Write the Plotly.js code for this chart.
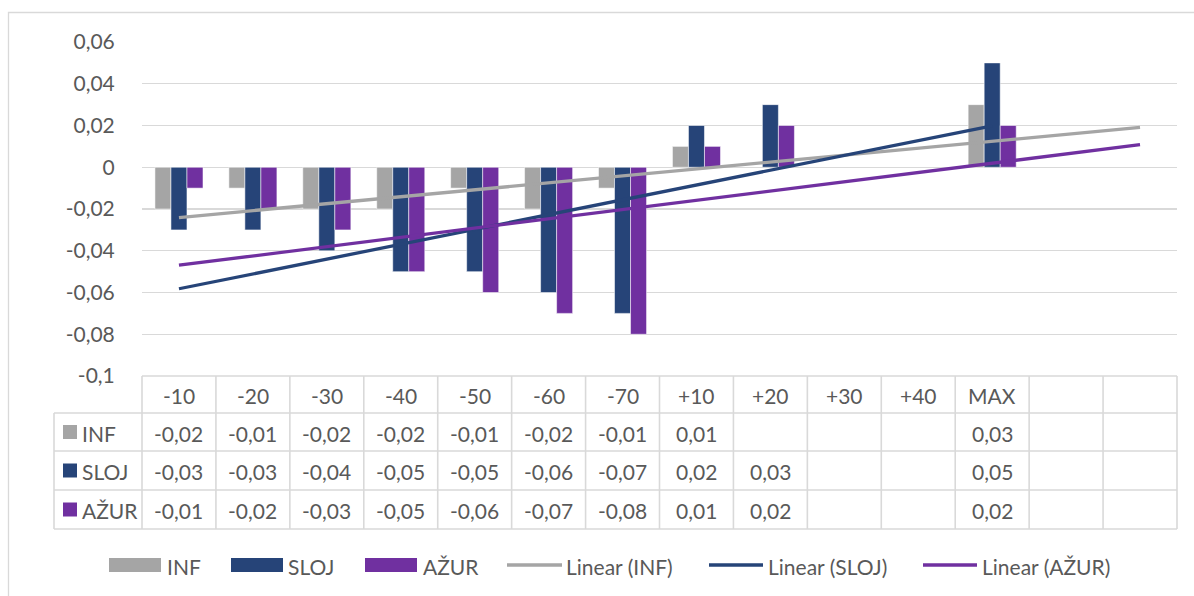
<!DOCTYPE html>
<html>
<head>
<meta charset="utf-8">
<script src="https://cdn.plot.ly/plotly-3.0.1.min.js"></script>
<style>
  html, body { margin: 0; padding: 0; background: #ffffff; }
  #chart { width: 1194px; height: 596px; }
</style>
</head>
<body>
<div id="chart"></div>
<script>
// ---------- data ----------
const categories = ['-10', '-20', '-30', '-40', '-50', '-60', '-70', '+10', '+20', '+30', '+40', 'MAX', '', ''];
const infValues  = [-0.02, -0.01, -0.02, -0.02, -0.01, -0.02, -0.01, 0.01, null, null, null, 0.03, null, null];
const slojValues = [-0.03, -0.03, -0.04, -0.05, -0.05, -0.06, -0.07, 0.02, 0.03, null, null, 0.05, null, null];
const azurValues = [-0.01, -0.02, -0.03, -0.05, -0.06, -0.07, -0.08, 0.01, 0.02, null, null, 0.02, null, null];
const seriesNames = ['INF', 'SLOJ', 'AŽUR'];
const trendNames = ['Linear (INF)', 'Linear (SLOJ)', 'Linear (AŽUR)'];
const yTickVals = [0.06, 0.04, 0.02, 0, -0.02, -0.04, -0.06, -0.08, -0.1];
const yTickText = ['0,06', '0,04', '0,02', '0', '-0,02', '-0,04', '-0,06', '-0,08', '-0,1'];

// ---------- styling ----------
const colors = ['#A5A5A5', '#264478', '#7030A0'];
const fitCount = 12;              // trendline source range (first 12 categories)
const trendLastIndex = [13, 11, 13]; // where each trendline is drawn to
const textColor = '#595959';
const lineColor = '#D9D9D9';
const fontFamily = 'Lato, "Open Sans", "Liberation Sans", sans-serif';
const fontSize = 21;

const W = 1194, H = 596;
const plotL = 142, plotR = 1177, plotT = 42, plotB = 376;
const xp = px => (px - plotL) / (plotR - plotL);
const yp = py => (plotB - py) / (plotB - plotT);

const allValues = [infValues, slojValues, azurValues];
const idx = categories.map((c, i) => i);
const nCols = categories.length;

// ---------- traces ----------
const traces = [];
allValues.forEach((vals, s) => {
  traces.push({
    type: 'bar', x: idx, y: vals, name: seriesNames[s],
    marker: { color: colors[s], line: { color: 'rgba(255,255,255,0.7)', width: 0.75 } },
    showlegend: false, hoverinfo: 'x+y'
  });
});
// linear trendlines (least squares over the source range, blanks counted as 0)
allValues.forEach((vals, s) => {
  const xs = [], ys = [];
  for (let i = 0; i < fitCount; i++) { xs.push(i); ys.push(vals[i] == null ? 0 : vals[i]); }
  const n = xs.length;
  const mx = xs.reduce((a, b) => a + b, 0) / n;
  const my = ys.reduce((a, b) => a + b, 0) / n;
  let sxy = 0, sxx = 0;
  for (let i = 0; i < n; i++) { sxy += (xs[i] - mx) * (ys[i] - my); sxx += (xs[i] - mx) ** 2; }
  const slope = sxy / sxx, icpt = my - slope * mx;
  const tx = [0, trendLastIndex[s]];
  traces.push({
    type: 'scatter', mode: 'lines', x: tx, y: tx.map(v => icpt + slope * v),
    name: trendNames[s], line: { color: colors[s], width: 3.3 }, showlegend: false, hoverinfo: 'skip'
  });
});

// ---------- table + legend ----------
const shapes = [];
const annotations = [];
const tableRowsPx = [376, 413, 451, 490, 529];
const labelColLeft = 54;

// outer chart border
shapes.push({ type: 'rect', xref: 'paper', yref: 'paper', x0: xp(8.5), x1: xp(1300), y0: yp(12.5), y1: yp(700),
  line: { color: lineColor, width: 1.3 }, fillcolor: 'rgba(0,0,0,0)', layer: 'below' });

// horizontal table lines
tableRowsPx.forEach((py, r) => {
  shapes.push({ type: 'line', xref: 'paper', yref: 'paper',
    x0: r === 0 ? 0 : xp(labelColLeft), x1: 1, y0: yp(py), y1: yp(py),
    line: { color: lineColor, width: 1.6 } });
});
// vertical table lines at column edges
for (let k = 0; k <= nCols; k++) {
  shapes.push({ type: 'line', xref: 'paper', yref: 'paper',
    x0: k / nCols, x1: k / nCols, y0: yp(tableRowsPx[0]), y1: yp(tableRowsPx[4]),
    line: { color: lineColor, width: 1.6 } });
}
shapes.push({ type: 'line', xref: 'paper', yref: 'paper',
  x0: xp(labelColLeft), x1: xp(labelColLeft), y0: yp(tableRowsPx[1]), y1: yp(tableRowsPx[4]),
  line: { color: lineColor, width: 1.6 } });

const txt = (text, x, y, xref, xanchor) => ({
  text, x, y, xref, yref: 'paper', xanchor: xanchor || 'center', yanchor: 'middle',
  showarrow: false, font: { family: fontFamily, size: fontSize, color: textColor }
});

// header row
categories.forEach((c, i) => {
  if (c !== '') annotations.push(txt(c, i, yp((tableRowsPx[0] + tableRowsPx[1]) / 2 + 1), 'x'));
});
// value rows
const fmt = v => v.toFixed(2).replace('.', ',');
allValues.forEach((vals, s) => {
  const cy = yp((tableRowsPx[s + 1] + tableRowsPx[s + 2]) / 2 + 1);
  vals.forEach((v, i) => { if (v != null) annotations.push(txt(fmt(v), i, cy, 'x')); });
  // row label key + name
  const cyPx = (tableRowsPx[s + 1] + tableRowsPx[s + 2]) / 2;
  shapes.push({ type: 'rect', xref: 'paper', yref: 'paper', x0: xp(63), x1: xp(77), y0: yp(cyPx - 7), y1: yp(cyPx + 7),
    fillcolor: colors[s], line: { width: 0 } });
  annotations.push(txt(seriesNames[s], xp(80), yp(cyPx + 1), 'paper', 'left'));
});

// bottom legend
const legY = 565;
const barKeys = [[109, 161, 165], [231, 283, 286], [365, 417, 421]];
barKeys.forEach((k, s) => {
  shapes.push({ type: 'rect', xref: 'paper', yref: 'paper', x0: xp(k[0]), x1: xp(k[1]), y0: yp(legY - 7), y1: yp(legY + 7),
    fillcolor: colors[s], line: { width: 0 } });
  annotations.push(txt(seriesNames[s], xp(k[2]), yp(legY + 1), 'paper', 'left'));
});
const lineKeys = [[507, 562, 564], [709, 763, 766], [923, 977, 980]];
lineKeys.forEach((k, s) => {
  shapes.push({ type: 'line', xref: 'paper', yref: 'paper', x0: xp(k[0]), x1: xp(k[1]), y0: yp(legY), y1: yp(legY),
    line: { color: colors[s], width: 3.3 } });
  annotations.push(txt(trendNames[s], xp(k[2]), yp(legY + 1), 'paper', 'left'));
});

const layout = {
  width: W, height: H,
  margin: { l: plotL, r: W - plotR, t: plotT, b: H - plotB, pad: 0 },
  paper_bgcolor: '#ffffff', plot_bgcolor: '#ffffff',
  font: { family: fontFamily, size: fontSize, color: textColor },
  barmode: 'group', bargap: 0.35, bargroupgap: 0,
  xaxis: { type: 'linear', range: [-0.5, nCols - 0.5], showgrid: false, zeroline: false,
    showticklabels: false, ticks: '', showline: false, fixedrange: true },
  yaxis: { range: [-0.1, 0.06], tickmode: 'array', tickvals: yTickVals, ticktext: yTickText,
    showgrid: true, gridcolor: lineColor, gridwidth: 1.3, zeroline: false, showline: false,
    ticks: 'outside', ticklen: 22, tickcolor: 'rgba(0,0,0,0)',
    tickfont: { family: fontFamily, size: fontSize, color: textColor }, fixedrange: true },
  showlegend: false,
  shapes, annotations
};

Plotly.newPlot('chart', traces, layout, { displayModeBar: false, staticPlot: true });
</script>
</body>
</html>
